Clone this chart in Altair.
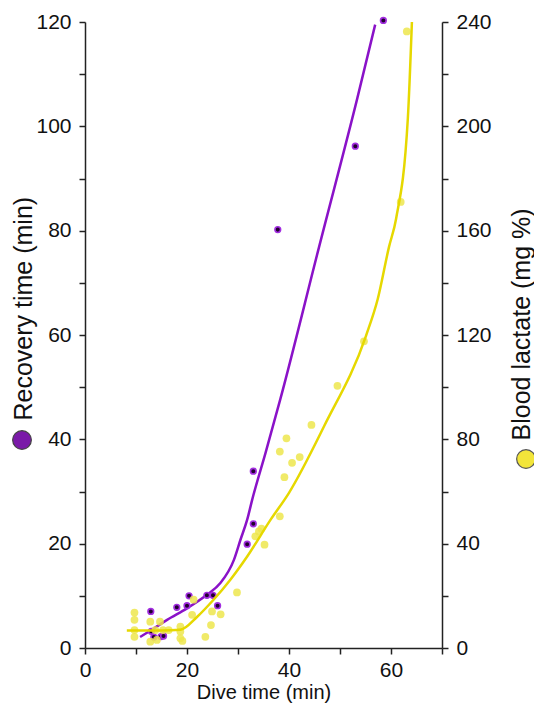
import altair as alt
import pandas as pd

# Recovery time (left axis, min) vs dive time (min)
rec_x = [12.9, 13.0, 13.5, 14.9, 15.4, 18.0, 20.0, 20.4, 23.9, 25.1, 26.0,
         31.8, 33.0, 33.0, 37.8, 53.0, 58.5]
rec_y = [7.0, 3.2, 2.1, 2.2, 2.3, 7.8, 8.1, 10.0, 10.1, 10.1, 8.1,
         19.9, 23.8, 33.9, 80.2, 96.2, 120.3]
rec_curve_x = [10.8, 13.1, 16.1, 20.0, 23.9, 26.5, 29.2, 30.5, 31.8, 32.8,
               35.4, 38.3, 45.9, 53.4, 56.9]
rec_curve_y = [2.1, 3.5, 5.4, 7.6, 10.2, 12.4, 16.9, 20.8, 24.6, 28.5,
               37.4, 47.7, 76.9, 105.4, 119.5]

# Blood lactate (right axis, mg %) vs dive time (min)
lac_x = [9.7, 9.7, 9.7, 9.7, 12.8, 13.8, 14.7, 14.1, 15.3, 16.4, 18.7, 18.7,
         18.7, 19.1, 12.8, 21.3, 21.0, 23.6, 24.7, 24.9, 26.6, 29.8, 33.4,
         34.1, 34.6, 35.2, 38.2, 39.1, 38.2, 39.5, 40.6, 42.1, 44.4, 49.5,
         54.7, 61.9, 63.1]
lac_y = [13.6, 10.8, 6.9, 4.3, 10.1, 6.9, 10.1, 3.1, 6.9, 6.9, 8.2, 6.3,
         3.7, 2.7, 2.4, 18.5, 12.7, 4.3, 8.8, 14.0, 12.9, 21.3, 42.8,
         44.7, 45.8, 39.6, 50.5, 65.5, 75.3, 80.4, 71.0, 73.2, 85.5, 100.5,
         117.6, 171.0, 236.4]
lac_curve_x = [8.2, 15.0, 18.7, 22.0, 25.2, 28.5, 31.8, 36.4, 40.0, 46.9, 55.1,
               57.4, 59.6, 61.0, 63.3, 64.1]
lac_curve_y = [6.7, 6.7, 7.0, 12.0, 18.5, 26.2, 35.1, 49.2, 59.5, 85.1, 119.7,
               133.8, 153.7, 164.6, 203.0, 240.0]

x_ticks = list(range(0, 71, 10))
yl_ticks = list(range(0, 121, 10))
yr_ticks = list(range(0, 241, 20))

FONT = "Liberation Sans"
AX = "#222222"
PURPLE = "#8a12c8"
PURPLE_LEG = "#7a1aa8"
YELLOW_LINE = "#e6d800"
YELLOW_PT = "#ede64e"

rec_pts = pd.DataFrame({"x": rec_x, "y": rec_y})
rec_line = pd.DataFrame({"x": rec_curve_x, "y": rec_curve_y})
lac_pts = pd.DataFrame({"x": lac_x, "y": lac_y})
lac_line = pd.DataFrame({"x": lac_curve_x, "y": lac_curve_y})

x_axis = alt.Axis(values=x_ticks,
                  labelExpr="datum.value % 20 == 0 && datum.value < 70 ? datum.label : ''",
                  title="Dive time (min)", grid=False, tickSize=6, labelFlush=False,
                  labelFontSize=21, titleFontSize=20, labelFont=FONT, titleFont=FONT,
                  titleFontWeight="normal", labelColor="#111", titleColor="#111",
                  domainColor=AX, tickColor=AX, domainWidth=1.5, tickWidth=1.5,
                  labelPadding=5, titleBaseline="bottom", titleY=54)
x_enc = alt.X("x:Q", scale=alt.Scale(domain=[0, 70], nice=False), axis=x_axis)

yl_axis = alt.Axis(values=yl_ticks,
                   labelExpr="datum.value % 20 == 0 ? datum.label : ''",
                   title="Recovery time (min)", orient="left", grid=False, tickSize=6,
                   labelFlush=False,
                   labelFontSize=21, titleFontSize=25, labelFont=FONT, titleFont=FONT,
                   titleFontWeight="normal", labelColor="#111", titleColor="#111",
                   domainColor=AX, tickColor=AX, domainWidth=1.5, tickWidth=1.5,
                   labelPadding=8, titleAngle=270, titleAlign="left",
                   titleBaseline="middle", titleX=-62, titleY=398)
yl_enc = alt.Y("y:Q", scale=alt.Scale(domain=[0, 120], nice=False), axis=yl_axis)

yr_axis = alt.Axis(values=yr_ticks,
                   labelExpr="datum.value % 40 == 0 ? datum.label : ''",
                   title="Blood lactate (mg %)", orient="right", grid=False, tickSize=6,
                   labelFlush=False,
                   labelFontSize=21, titleFontSize=25, labelFont=FONT, titleFont=FONT,
                   titleFontWeight="normal", labelColor="#111", titleColor="#111",
                   domainColor=AX, tickColor=AX, domainWidth=1.5, tickWidth=1.5,
                   labelPadding=8, titleAngle=270, titleAlign="left",
                   titleBaseline="middle", titleX=79, titleY=418)
yr_enc = alt.Y("y:Q", scale=alt.Scale(domain=[0, 240], nice=False), axis=yr_axis)

left_line = alt.Chart(rec_line).mark_line(color=PURPLE, strokeWidth=2.5,
                                          interpolate="monotone").encode(x=x_enc, y=yl_enc)
left_pts = alt.Chart(rec_pts).mark_point(filled=True, fill="#220030", stroke="#a22ee0",
                                         strokeWidth=1.6, size=32, opacity=1).encode(x=x_enc, y=yl_enc)
left_leg = alt.Chart(pd.DataFrame({"k": [0]})).mark_point(
    filled=True, fill=PURPLE_LEG, stroke="#444", strokeWidth=1.2, size=350, opacity=1
).encode(x=alt.value(-63), y=alt.value(418))

right_line = alt.Chart(lac_line).mark_line(color=YELLOW_LINE, strokeWidth=2.5,
                                           interpolate="monotone").encode(x=x_enc, y=yr_enc)
right_pts = alt.Chart(lac_pts).mark_point(filled=True, fill=YELLOW_PT, size=60,
                                          opacity=0.85).encode(x=x_enc, y=yr_enc)
right_leg = alt.Chart(pd.DataFrame({"k": [0]})).mark_point(
    filled=True, fill="#f2e53a", stroke="#555", strokeWidth=1.2, size=350, opacity=1
).encode(x=alt.value(441), y=alt.value(437))

chart = alt.layer(
    alt.layer(left_line, left_pts, left_leg),
    alt.layer(right_pts, right_line, right_leg),
).resolve_scale(y="independent").properties(
    width=357, height=626,
    autosize=alt.AutoSizeParams(type="none"),
    padding={"left": 77, "top": 14, "right": 92, "bottom": 55},
    background="white",
).configure_view(stroke=None)

chart.save("out.html", embed_options={"renderer": "svg", "actions": False})
